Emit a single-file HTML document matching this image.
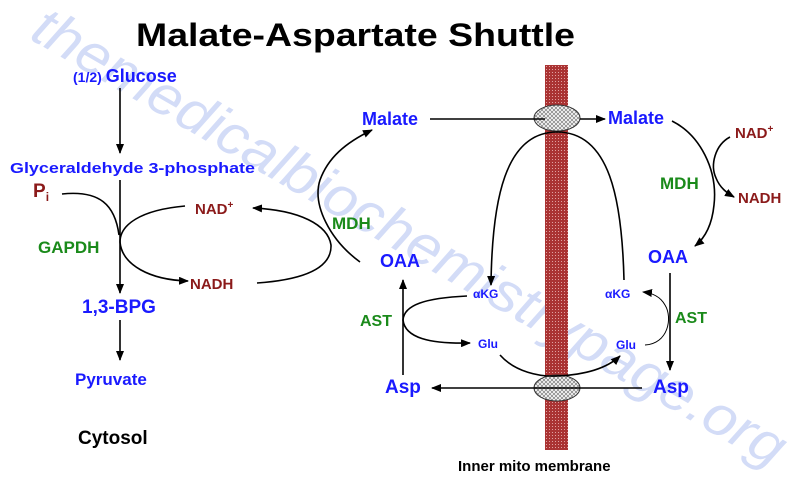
<!DOCTYPE html>
<html><head><meta charset="utf-8"><style>
html,body{margin:0;padding:0;background:#fff;}
svg{display:block;font-family:"Liberation Sans",Arial,sans-serif;font-weight:bold;}
.b{fill:#1a1aff}.r{fill:#8b1a1a}.g{fill:#1a8a1a}
.l{fill:none;stroke:#000;stroke-width:1.6}
.t{fill:none;stroke:#000;stroke-width:1}
.w{font-weight:normal;font-style:italic;fill:#d3dcf7}
</style></head><body>
<svg width="800" height="487" viewBox="0 0 800 487" xmlns="http://www.w3.org/2000/svg">
<defs>
<marker id="a" markerWidth="10" markerHeight="8" refX="9" refY="4" orient="auto" markerUnits="userSpaceOnUse"><path d="M0,0 L10,4 L0,8 Z" fill="#000"/></marker>
<pattern id="h" width="4" height="4" patternUnits="userSpaceOnUse"><rect width="4" height="4" fill="#fff"/><path d="M0,0L4,4M4,0L0,4" stroke="#888" stroke-width="0.8"/></pattern>
<pattern id="m" width="3" height="3" patternUnits="userSpaceOnUse"><rect width="3" height="3" fill="#a33"/><rect width="1" height="1" fill="#e0a0a0"/></pattern>
</defs>
<text x="28" y="38" transform="rotate(30 28 38)" font-size="56" class="w" textLength="860" lengthAdjust="spacingAndGlyphs">themedicalbiochemistrypage.org</text>
<text x="136" y="46" font-size="32" fill="#000" textLength="439" lengthAdjust="spacingAndGlyphs">Malate-Aspartate Shuttle</text>
<!-- membrane -->
<rect x="545" y="65" width="23" height="385" fill="url(#m)"/>
<ellipse cx="557" cy="118" rx="23" ry="13" fill="url(#h)" stroke="#333"/>
<ellipse cx="557" cy="388" rx="23" ry="13" fill="url(#h)" stroke="#333"/>
<text x="458" y="471" font-size="15" fill="#000">Inner mito membrane</text>
<!-- left glycolysis -->
<text x="73" y="82" class="b" font-size="14">(1/2) <tspan font-size="18">Glucose</tspan></text>
<line x1="120" y1="88" x2="120" y2="153" class="l" marker-end="url(#a)"/>
<text x="10" y="173" class="b" font-size="14.5" textLength="245" lengthAdjust="spacingAndGlyphs">Glyceraldehyde 3-phosphate</text>
<line x1="120" y1="180" x2="120" y2="293" class="l" marker-end="url(#a)"/>
<text x="82" y="313" class="b" font-size="19">1,3-BPG</text>
<line x1="120" y1="320" x2="120" y2="360" class="l" marker-end="url(#a)"/>
<text x="75" y="385" class="b" font-size="17">Pyruvate</text>
<text x="78" y="444" font-size="19" fill="#000">Cytosol</text>
<text x="33" y="197" class="r" font-size="19">P<tspan font-size="12" dy="4">i</tspan></text>
<path d="M62,194 C100,190 115,205 119,235" class="l"/>
<text x="38" y="253" class="g" font-size="17">GAPDH</text>
<text x="195" y="214" class="r" font-size="15">NAD<tspan font-size="10" dy="-6">+</tspan></text>
<text x="190" y="289" class="r" font-size="15">NADH</text>
<path d="M185,206 C140,210 120,225 120,242 C122,265 150,280 188,281" class="l" marker-end="url(#a)"/>
<path d="M257,283 C300,280 332,270 331,245 C328,225 300,210 253,208" class="l" marker-end="url(#a)"/>
<path d="M360,262 C330,240 312,205 320,180 C328,158 345,143 372,130" class="l" marker-end="url(#a)"/>
<text x="332" y="229" class="g" font-size="17">MDH</text>
<!-- mito -->
<text x="362" y="125" class="b" font-size="18">Malate</text>
<line x1="430" y1="119" x2="545" y2="119" class="l"/>
<line x1="580" y1="119" x2="605" y2="119" class="l" marker-end="url(#a)"/>
<text x="608" y="124" class="b" font-size="18">Malate</text>
<text x="735" y="138" class="r" font-size="15">NAD<tspan font-size="10" dy="-6">+</tspan></text>
<text x="738" y="203" class="r" font-size="15">NADH</text>
<path d="M672,121 C700,135 718,170 714,205 C712,225 705,238 695,246" class="l" marker-end="url(#a)"/>
<path d="M730,137 C715,145 710,165 716,178 C720,188 727,193 734,197" class="l" marker-end="url(#a)"/>
<text x="660" y="189" class="g" font-size="17">MDH</text>
<text x="648" y="263" class="b" font-size="18">OAA</text>
<line x1="670" y1="273" x2="670" y2="370" class="l" marker-end="url(#a)"/>
<text x="653" y="393" class="b" font-size="19">Asp</text>
<text x="675" y="323" class="g" font-size="16">AST</text>
<text x="605" y="298" class="b" font-size="12">αKG</text>
<text x="616" y="349" class="b" font-size="12">Glu</text>
<path d="M645,345 C668,344 673,318 665,305 C660,296 652,293 643,292" class="t" marker-end="url(#a)"/>
<line x1="642" y1="388" x2="432" y2="388" class="l" marker-end="url(#a)"/>
<text x="385" y="393" class="b" font-size="19">Asp</text>
<line x1="403" y1="375" x2="403" y2="280" class="l" marker-end="url(#a)"/>
<text x="380" y="267" class="b" font-size="18">OAA</text>
<text x="360" y="326" class="g" font-size="16">AST</text>
<text x="473" y="298" class="b" font-size="12">αKG</text>
<text x="478" y="348" class="b" font-size="12">Glu</text>
<path d="M467,296 C425,298 404,305 403,320 C405,338 430,344 470,343" class="l" marker-end="url(#a)"/>
<path d="M624,280 C622,200 610,132 557,132 C505,132 492,200 491,285" class="l" marker-end="url(#a)"/>
<path d="M500,355 C515,372 540,377 557,376 C580,375 605,370 620,356" class="l" marker-end="url(#a)"/>
</svg>
</body></html>
